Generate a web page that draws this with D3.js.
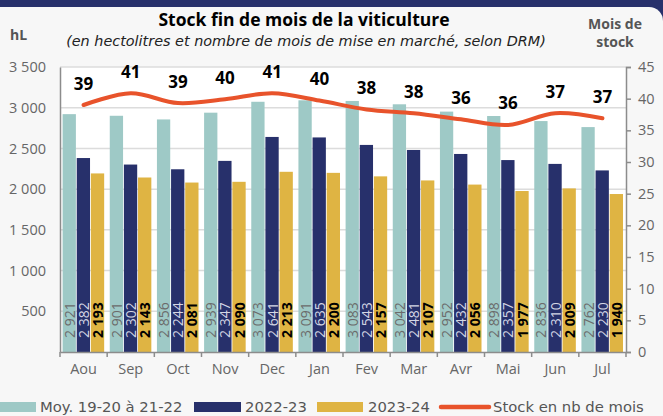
<!DOCTYPE html>
<html><head><meta charset="utf-8">
<script src="https://cdn.jsdelivr.net/npm/d3@7"></script>
<style>
html,body{margin:0;padding:0;background:#f7f7f7;}
svg{display:block;}
text{font-family:"Open Sans","DejaVu Sans",sans-serif;}
</style></head>
<body>
<script>
const months = ["Aou","Sep","Oct","Nov","Dec","Jan","Fev","Mar","Avr","Mai","Jun","Jul"];
const seriesNames = ["Moy. 19-20 à 21-22","2022-23","2023-24"];
const avgValues = [2921,2901,2856,2939,3073,3091,3083,3042,2952,2898,2836,2762];
const values2223 = [2382,2302,2244,2347,2641,2635,2543,2481,2432,2357,2310,2230];
const values2324 = [2193,2143,2081,2090,2213,2200,2157,2107,2056,1977,2009,1940];
const stockMonths = [39.0,40.85,39.3,39.9,40.85,39.7,38.3,37.7,36.75,35.85,37.7,36.9];
const stockLabels = [39,41,39,40,41,40,38,38,36,36,37,37];
const leftTicks = [0,500,1000,1500,2000,2500,3000,3500];
const rightTicks = [0,5,10,15,20,25,30,35,40,45];
const lineName = "Stock en nb de mois";

const colors = ["#9ec9c6","#27306b","#dfb443"];
const lineColor = "#e8532b";
const W = 663, H = 416;
const m = {l:60, r:626, t:67, b:352};

const svg = d3.select("body").append("svg").attr("width",W).attr("height",H);
// background
svg.append("rect").attr("width",W).attr("height",H).attr("fill","#27306b");
const R = 14, cardTop = 7;
svg.append("path").attr("fill","#f7f7f7")
  .attr("d",`M0,${cardTop} H${W-R} A${R},${R} 0 0 1 ${W},${cardTop+R} V${H} H0 Z`);

const x0 = d3.scaleBand().domain(months).range([m.l,m.r]).padding(0);
const x1 = d3.scaleBand().domain(seriesNames).range([2.6, x0.bandwidth()-3]).paddingInner(0.06);
const yL = d3.scaleLinear().domain([0,3500]).range([m.b,m.t]);
const yR = d3.scaleLinear().domain([0,45]).range([m.b,m.t]);

svg.append("rect").attr("x",m.l).attr("y",m.t).attr("width",m.r-m.l).attr("height",m.b-m.t).attr("fill","#fff");

// gridlines
svg.append("g").selectAll("line").data(leftTicks.filter(d=>d>0)).join("line")
  .attr("x1",m.l).attr("x2",m.r).attr("y1",d=>yL(d)).attr("y2",d=>yL(d))
  .attr("stroke","#dcdcdc").attr("stroke-width",1.5);

const fmt = d3.formatLocale({decimal:",",thousands:" ",grouping:[3],currency:["",""]}).format(",");

const allSeries = [avgValues, values2223, values2324];
const groups = svg.append("g").selectAll("g").data(months).join("g")
  .attr("transform",d=>`translate(${x0(d)},0)`);
groups.selectAll("rect").data((d,i)=>allSeries.map((s,k)=>({k, v:s[i]}))).join("rect")
  .attr("x",d=>x1(seriesNames[d.k])).attr("width",x1.bandwidth())
  .attr("y",d=>yL(d.v)).attr("height",d=>yL(0)-yL(d.v))
  .attr("fill",d=>colors[d.k]);
const labStyle = [{fill:"#6b6b6b",w:400},{fill:"#d4d6e4",w:400},{fill:"#000",w:700}];
groups.selectAll("text").data((d,i)=>allSeries.map((s,k)=>({k, v:s[i]}))).join("text")
  .attr("transform",d=>`translate(${x1(seriesNames[d.k])+x1.bandwidth()/2},338) rotate(-90)`)
  .attr("dominant-baseline","central")
  .attr("font-size",14).attr("fill",d=>labStyle[d.k].fill).attr("font-weight",d=>labStyle[d.k].w)
  .text(d=>fmt(d.v));

// axes
const axL = svg.append("g").attr("transform",`translate(${m.l},0)`)
  .call(d3.axisLeft(yL).tickValues(leftTicks).tickFormat(d=>d===0?"":fmt(d)).tickSize(0).tickPadding(14));
axL.select(".domain").attr("stroke","#8c8c8c").attr("stroke-width",1.5);
axL.selectAll("text").attr("font-size",14.5).attr("fill","#666");

const axR = svg.append("g").attr("transform",`translate(${m.r},0)`)
  .call(d3.axisRight(yR).tickValues(rightTicks).tickSize(5).tickPadding(7));
axR.select(".domain").attr("stroke","#8c8c8c").attr("stroke-width",1.5);
axR.selectAll("line").attr("stroke","#8c8c8c").attr("stroke-width",1.5);
axR.selectAll("text").attr("font-size",14.5).attr("fill","#666");

const axB = svg.append("g").attr("transform",`translate(0,${m.b})`)
  .call(d3.axisBottom(x0).tickSize(0).tickPadding(12));
axB.select(".domain").attr("stroke","#8c8c8c").attr("stroke-width",1.5);
axB.selectAll("text").attr("font-size",14.5).attr("fill","#666");
svg.append("g").selectAll("line").data(d3.range(months.length+1)).join("line")
  .attr("x1",i=>m.l+i*x0.step()).attr("x2",i=>m.l+i*x0.step())
  .attr("y1",m.b).attr("y2",m.b+5).attr("stroke","#8c8c8c").attr("stroke-width",1.5);

// line
const line = d3.line().x((d,i)=>x0(months[i])+x0.bandwidth()/2).y(d=>yR(d)).curve(d3.curveCatmullRom.alpha(0.5));
svg.append("path").datum(stockMonths).attr("d",line).attr("fill","none")
  .attr("stroke",lineColor).attr("stroke-width",4).attr("stroke-linecap","round");
svg.append("g").selectAll("text").data(stockMonths).join("text")
  .attr("x",(d,i)=>x0(months[i])+x0.bandwidth()/2).attr("y",d=>yR(d)-22)
  .attr("text-anchor","middle").attr("dominant-baseline","central")
  .attr("font-size",17).attr("font-weight",700).attr("fill","#000")
  .text((d,i)=>stockLabels[i]);

// titles
svg.append("text").attr("x",304).attr("y",26).attr("text-anchor","middle")
  .attr("font-size",17.5).attr("font-weight",700).attr("fill","#000").text("Stock fin de mois de la viticulture");
svg.append("text").attr("x",306).attr("y",46).attr("text-anchor","middle")
  .style("font-family","'DejaVu Sans'").style("font-style","italic").style("font-size","14.4px")
  .attr("fill","#222")
  .text("(en hectolitres et nombre de mois de mise en marché, selon DRM)");
svg.append("text").attr("x",10).attr("y",40).attr("font-size",14).attr("font-weight",700).attr("fill","#555").text("hL");
svg.append("text").attr("x",615).attr("y",29).attr("text-anchor","middle").attr("font-size",14).attr("font-weight",700).attr("fill","#555").text("Mois de");
svg.append("text").attr("x",615).attr("y",47).attr("text-anchor","middle").attr("font-size",14).attr("font-weight",700).attr("fill","#555").text("stock");

// legend
const lg = svg.append("g");
const legendItems = [
  {type:"rect",color:colors[0],x:0,w:36,tx:40,label:seriesNames[0]},
  {type:"rect",color:colors[1],x:194,w:47,tx:245,label:seriesNames[1]},
  {type:"rect",color:colors[2],x:317,w:46,tx:368,label:seriesNames[2]},
  {type:"line",color:lineColor,x:441,w:48,tx:493,label:lineName}
];
legendItems.forEach(it=>{
  if(it.type==="rect") lg.append("rect").attr("x",it.x).attr("y",402).attr("width",it.w).attr("height",10).attr("fill",it.color);
  else lg.append("line").attr("x1",it.x).attr("x2",it.x+it.w).attr("y1",407).attr("y2",407).attr("stroke",it.color).attr("stroke-width",4.5).attr("stroke-linecap","round");
  lg.append("text").attr("x",it.tx).attr("y",406).attr("dominant-baseline","central")
    .style("font-family","'DejaVu Sans'").style("font-size","14.8px").attr("fill","#555").text(it.label);
});
</script>
</body></html>
